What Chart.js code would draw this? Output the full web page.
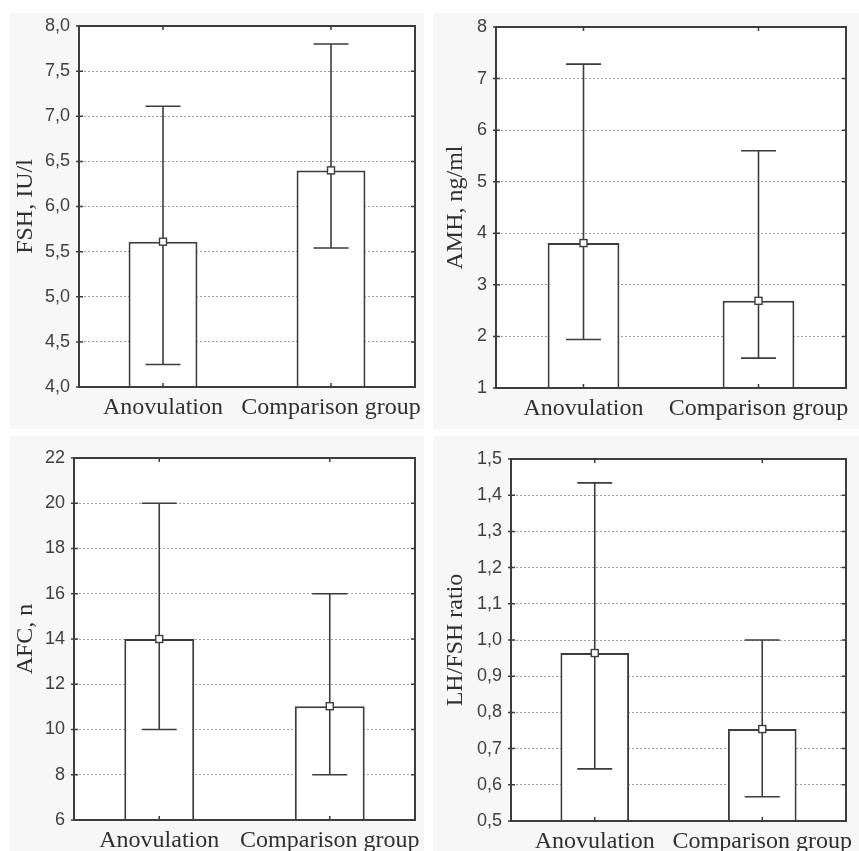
<!DOCTYPE html>
<html>
<head>
<meta charset="utf-8">
<script src="https://cdn.jsdelivr.net/npm/chart.js@4.4.1/dist/chart.umd.min.js"></script>
<style>
  html, body { margin: 0; padding: 0; background: #ffffff; }
  body { width: 859px; height: 851px; position: relative; overflow: hidden; }
  .panel { position: absolute; background: #f7f7f7; }
  canvas { position: absolute; }
</style>
</head>
<body>
<div class="panel" style="left:10px;top:13px;width:414px;height:416px"></div>
<div class="panel" style="left:433px;top:13px;width:426px;height:416px"></div>
<div class="panel" style="left:10px;top:436px;width:414px;height:415px"></div>
<div class="panel" style="left:433px;top:436px;width:426px;height:415px"></div>
<canvas id="c1" width="430" height="425" style="left:0;top:0"></canvas>
<canvas id="c2" width="429" height="425" style="left:430px;top:0"></canvas>
<canvas id="c3" width="430" height="426" style="left:0;top:425px"></canvas>
<canvas id="c4" width="429" height="426" style="left:430px;top:425px"></canvas>
<script>
// ---- data ----
const categories = ['Anovulation', 'Comparison group'];

const fshMean = [5.61, 6.40];
const fshLow  = [4.25, 5.54];
const fshHigh = [7.11, 7.80];
const fshTicks = [4.0, 4.5, 5.0, 5.5, 6.0, 6.5, 7.0, 7.5, 8.0];
const fshTickLabels = ['4,0', '4,5', '5,0', '5,5', '6,0', '6,5', '7,0', '7,5', '8,0'];

const amhMean = [3.81, 2.69];
const amhLow  = [1.94, 1.58];
const amhHigh = [7.28, 5.60];
const amhTicks = [1, 2, 3, 4, 5, 6, 7, 8];
const amhTickLabels = ['1', '2', '3', '4', '5', '6', '7', '8'];

const afcMean = [14.0, 11.03];
const afcLow  = [10, 8];
const afcHigh = [20, 16];
const afcTicks = [6, 8, 10, 12, 14, 16, 18, 20, 22];
const afcTickLabels = ['6', '8', '10', '12', '14', '16', '18', '20', '22'];

const ratioMean = [0.964, 0.754];
const ratioLow  = [0.644, 0.567];
const ratioHigh = [1.434, 1.00];
const ratioTicks = [0.5, 0.6, 0.7, 0.8, 0.9, 1.0, 1.1, 1.2, 1.3, 1.4, 1.5];
const ratioTickLabels = ['0,5', '0,6', '0,7', '0,8', '0,9', '1,0', '1,1', '1,2', '1,3', '1,4', '1,5'];

const titles = ['FSH, IU/l', 'AMH, ng/ml', 'AFC, n', 'LH/FSH ratio'];

// ---- styling / layout ----
const LINE = '#3d3d3d';
const panels = [
  { id: 'c1', w: 430, h: 425, area: { l: 79, t: 26, r: 415, b: 387 }, mean: fshMean, low: fshLow, high: fshHigh, ticks: fshTicks, labels: fshTickLabels, title: titles[0] },
  { id: 'c2', w: 429, h: 425, area: { l: 66, t: 27, r: 416, b: 388 }, mean: amhMean, low: amhLow, high: amhHigh, ticks: amhTicks, labels: amhTickLabels, title: titles[1] },
  { id: 'c3', w: 430, h: 426, area: { l: 74, t: 33, r: 415, b: 395 }, mean: afcMean, low: afcLow, high: afcHigh, ticks: afcTicks, labels: afcTickLabels, title: titles[2] },
  { id: 'c4', w: 429, h: 426, area: { l: 81, t: 34, r: 416, b: 396 }, mean: ratioMean, low: ratioLow, high: ratioHigh, ticks: ratioTicks, labels: ratioTickLabels, title: titles[3] }
];

const plotBg = {
  id: 'plotBg',
  beforeDraw(chart) {
    const a = chart.chartArea, ctx = chart.ctx;
    ctx.save();
    ctx.fillStyle = '#ffffff';
    ctx.fillRect(a.left, a.top, a.right - a.left, a.bottom - a.top);
    ctx.restore();
  }
};

const errorBars = {
  id: 'errorBars',
  afterDatasetsDraw(chart, args, opts) {
    const ctx = chart.ctx;
    const ys = chart.scales.y;
    const meta = chart.getDatasetMeta(0);
    const cap = 17.5, half = 3.5;
    ctx.save();
    ctx.strokeStyle = LINE;
    ctx.lineWidth = 1.6;
    meta.data.forEach((bar, i) => {
      const x = bar.x;
      const yH = ys.getPixelForValue(opts.high[i]);
      const yL = ys.getPixelForValue(opts.low[i]);
      const yM = ys.getPixelForValue(opts.mean[i]);
      ctx.beginPath();
      ctx.moveTo(x, yH); ctx.lineTo(x, yL);
      ctx.moveTo(x - cap, yH); ctx.lineTo(x + cap, yH);
      ctx.moveTo(x - cap, yL); ctx.lineTo(x + cap, yL);
      ctx.stroke();
      ctx.fillStyle = '#ffffff';
      ctx.fillRect(x - half, yM - half, half * 2, half * 2);
      ctx.lineWidth = 1.4;
      ctx.strokeRect(x - half, yM - half, half * 2, half * 2);
      ctx.lineWidth = 1.6;
    });
    // frame
    const a = chart.chartArea;
    ctx.lineWidth = 2;
    ctx.strokeRect(a.left, a.top, a.right - a.left, a.bottom - a.top);
    // tick marks
    ctx.lineWidth = 1.5;
    ctx.beginPath();
    meta.data.forEach(bar => {
      ctx.moveTo(bar.x, a.top); ctx.lineTo(bar.x, a.top + 4);
      ctx.moveTo(bar.x, a.bottom); ctx.lineTo(bar.x, a.bottom - 4);
    });
    ys.ticks.forEach(t => {
      const y = ys.getPixelForValue(t.value);
      ctx.moveTo(a.right, y); ctx.lineTo(a.right - 4, y);
      ctx.moveTo(a.left - 3, y); ctx.lineTo(a.left + 4, y);
    });
    ctx.stroke();
    ctx.restore();
  }
};

panels.forEach(p => {
  const last = p.ticks.length - 1;
  new Chart(document.getElementById(p.id), {
    type: 'bar',
    data: {
      labels: categories,
      datasets: [{
        data: p.mean,
        backgroundColor: '#ffffff',
        borderColor: LINE,
        borderWidth: 2,
        barPercentage: 0.41,
        categoryPercentage: 1.0
      }]
    },
    options: {
      responsive: false,
      animation: false,
      devicePixelRatio: 1,
      layout: { padding: { left: 0, top: p.area.t, right: p.w - p.area.r, bottom: 0 } },
      plugins: {
        legend: { display: false },
        tooltip: { enabled: false },
        errorBars: { mean: p.mean, low: p.low, high: p.high }
      },
      scales: {
        x: {
          offset: true,
          grid: { display: false, drawTicks: false },
          border: { display: true, color: LINE, width: 2 },
          ticks: {
            autoSkip: false, maxRotation: 0, minRotation: 0,
            padding: 6,
            color: '#303030',
            font: { family: "'Liberation Serif', 'Times New Roman', serif", size: 24 }
          },
          afterFit(scale) {
            scale.height = p.h - p.area.b;
            scale.paddingLeft = 0;
            scale.paddingRight = 0;
          }
        },
        y: {
          min: p.ticks[0],
          max: p.ticks[last],
          afterBuildTicks(scale) {
            scale.ticks = p.ticks.map(v => ({ value: v }));
          },
          afterFit(scale) {
            scale.width = p.area.l;
          },
          grid: {
            drawTicks: false,
            lineWidth: 1,
            color: ctx => (ctx.index === 0 || ctx.index === last) ? 'rgba(0,0,0,0)' : '#9c9c9c'
          },
          border: { display: true, color: LINE, width: 2, dash: [2, 2] },
          ticks: {
            padding: 9,
            color: '#404040',
            font: { family: "'Liberation Sans', Arial, sans-serif", size: 18 },
            callback: (v, i) => p.labels[i]
          },
          title: {
            display: true,
            text: p.title,
            color: '#303030',
            padding: { top: 11, bottom: 0 },
            font: { family: "'Liberation Serif', 'Times New Roman', serif", size: 24, lineHeight: 1.2 }
          }
        }
      }
    },
    plugins: [plotBg, errorBars]
  });
});
</script>
</body>
</html>
